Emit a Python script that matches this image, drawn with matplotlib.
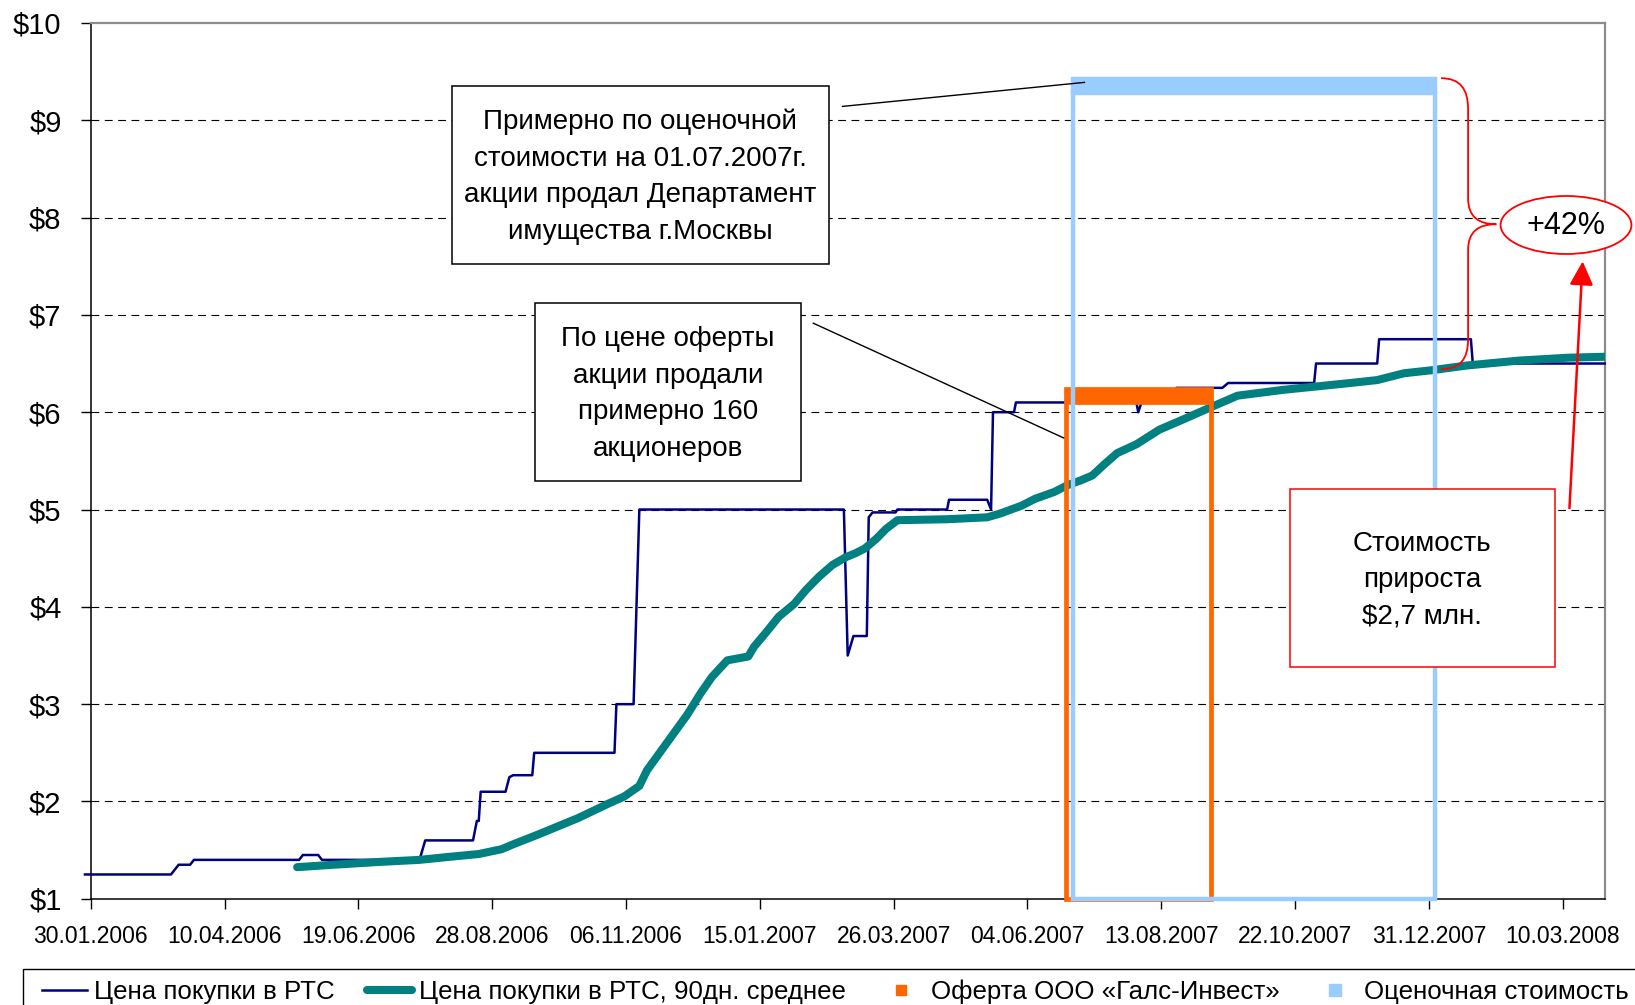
import matplotlib
matplotlib.use("Agg")
import matplotlib.pyplot as plt
import matplotlib.dates as mdates
import matplotlib.transforms as mtransforms
from matplotlib.patches import Rectangle, Ellipse, PathPatch, FancyArrowPatch
from matplotlib.path import Path
from matplotlib.lines import Line2D
from datetime import datetime

plt.rcParams['font.family'] = ['Liberation Sans', 'DejaVu Sans']

W, H = 1635, 1005

NAVY = '#000080'
TEAL = '#008080'
ORANGE = '#FF6600'
LIGHT_BLUE = '#99CCFF'
RED = '#FF0000'

# purchase price on RTS (step line)
rts_dates = ["2006-01-27", "2006-03-13", "2006-03-15", "2006-03-17", "2006-03-23", "2006-03-25",
             "2006-05-19", "2006-05-21", "2006-05-29", "2006-05-31", "2006-07-21", "2006-07-24",
             "2006-08-18", "2006-08-20", "2006-08-21", "2006-08-22", "2006-09-04", "2006-09-06",
             "2006-09-08", "2006-09-18", "2006-09-19", "2006-10-31", "2006-11-01", "2006-11-10",
             "2006-11-13", "2007-02-28", "2007-03-02", "2007-03-05", "2007-03-12", "2007-03-13",
             "2007-03-15", "2007-03-27", "2007-03-28", "2007-04-23", "2007-04-24", "2007-05-14",
             "2007-05-16", "2007-05-17", "2007-05-28", "2007-05-29", "2007-07-31", "2007-08-01",
             "2007-08-03", "2007-08-20", "2007-08-21", "2007-09-14", "2007-09-17", "2007-11-01",
             "2007-11-02", "2007-12-04", "2007-12-05", "2008-01-22", "2008-01-23", "2008-04-01"]
rts_prices = [1.25, 1.25, 1.30, 1.35, 1.35, 1.40,
              1.40, 1.45, 1.45, 1.40, 1.40, 1.60,
              1.60, 1.80, 1.80, 2.10, 2.10, 2.25,
              2.27, 2.27, 2.50, 2.50, 3.00, 3.00,
              5.00, 5.00, 3.50, 3.70, 3.70, 4.92,
              4.97, 4.97, 5.00, 5.00, 5.10, 5.10,
              5.00, 6.00, 6.00, 6.10, 6.10, 6.00,
              6.12, 6.12, 6.25, 6.25, 6.30, 6.30,
              6.50, 6.50, 6.75, 6.75, 6.50, 6.50]

# 90-day moving average
avg_dates = ["2006-05-18", "2006-06-06", "2006-07-01", "2006-07-21", "2006-08-05", "2006-08-21",
             "2006-09-02", "2006-09-08", "2006-09-21", "2006-10-12", "2006-10-28", "2006-11-05",
             "2006-11-13", "2006-11-17", "2006-11-24", "2006-12-01", "2006-12-08", "2006-12-15",
             "2006-12-21", "2006-12-29", "2007-01-09", "2007-01-12", "2007-01-18", "2007-01-25",
             "2007-02-02", "2007-02-08", "2007-02-15", "2007-02-22", "2007-03-01", "2007-03-06",
             "2007-03-11", "2007-03-17", "2007-03-22", "2007-03-28", "2007-04-23", "2007-05-14",
             "2007-05-21", "2007-06-01", "2007-06-08", "2007-06-18", "2007-06-25", "2007-07-02",
             "2007-07-08", "2007-07-14", "2007-07-21", "2007-07-31", "2007-08-12", "2007-08-25",
             "2007-09-09", "2007-09-22", "2007-10-16", "2007-11-20", "2007-12-04", "2007-12-18",
             "2008-01-01", "2008-01-20", "2008-02-16", "2008-03-13", "2008-04-02"]
avg_prices = [1.325, 1.35, 1.38, 1.40, 1.43, 1.46,
              1.51, 1.56, 1.66, 1.83, 1.98, 2.05,
              2.16, 2.32, 2.51, 2.70, 2.89, 3.11,
              3.28, 3.45, 3.49, 3.59, 3.73, 3.90,
              4.03, 4.17, 4.31, 4.43, 4.51, 4.55,
              4.60, 4.70, 4.80, 4.89, 4.90, 4.92,
              4.96, 5.04, 5.11, 5.18, 5.25, 5.30,
              5.35, 5.46, 5.58, 5.67, 5.82, 5.93,
              6.06, 6.17, 6.23, 6.30, 6.33, 6.40,
              6.43, 6.48, 6.53, 6.56, 6.57]

# offer (orange) and valuation (light blue) periods
offer_period = ["2007-06-24", "2007-09-08"]
offer_band = [6.10, 6.26]
valuation_period = ["2007-06-28", "2008-01-03"]
valuation_band = [9.28, 9.45]

x_tick_labels = ["30.01.2006", "10.04.2006", "19.06.2006", "28.08.2006", "06.11.2006", "15.01.2007",
                 "26.03.2007", "04.06.2007", "13.08.2007", "22.10.2007", "31.12.2007", "10.03.2008"]
x_limits = ["2006-01-30", "2008-04-01"]
y_ticks = [1, 2, 3, 4, 5, 6, 7, 8, 9, 10]

legend_labels = ["Цена покупки в РТС", "Цена покупки в РТС, 90дн. среднее",
                 "Оферта ООО «Галс-Инвест»", "Оценочная стоимость"]

note_valuation = "Примерно по оценочной\nстоимости на 01.07.2007г.\nакции продал Департамент\nимущества г.Москвы"
note_offer = "По цене оферты\nакции продали\nпримерно 160\nакционеров"
note_gain = "Стоимость\nприроста\n$2,7 млн."
note_percent = "+42%"


def to_num(s):
    return mdates.date2num(datetime.strptime(s, "%Y-%m-%d"))


fig = plt.figure(figsize=(W / 100, H / 100), dpi=100)
ax = fig.add_axes([90.7 / W, 1 - 898.8 / H, (1604.7 - 90.7) / W, (898.8 - 22.9) / H])

# pixel coords measured from the top-left of the image
px = mtransforms.Affine2D().scale(1, -1).translate(0, H)

rts_x = [to_num(d) for d in rts_dates]
avg_x = [to_num(d) for d in avg_dates]

ax.plot(rts_x, rts_prices, color=NAVY, lw=1.8, zorder=3, clip_on=False)
ax.plot(avg_x, avg_prices, color=TEAL, lw=5.8, zorder=4, solid_capstyle='round')

# orange offer rectangle
o0, o1 = to_num(offer_period[0]), to_num(offer_period[1])
ax.add_patch(Rectangle((o0, 1), o1 - o0, offer_band[0] - 1, fill=False, ec=ORANGE, lw=3.4,
                       zorder=5, clip_on=False, joinstyle='miter'))
ax.add_patch(Rectangle((o0, offer_band[0] + 0.025), o1 - o0, offer_band[1] - offer_band[0] - 0.05,
                       fc=ORANGE, ec=ORANGE, lw=3.4, zorder=5, clip_on=False))

# light blue valuation rectangle
v0, v1 = to_num(valuation_period[0]), to_num(valuation_period[1])
ax.add_patch(Rectangle((v0, 1), v1 - v0, valuation_band[0] - 1, fill=False, ec=LIGHT_BLUE, lw=3.2,
                       zorder=6, clip_on=False, joinstyle='miter'))
ax.add_patch(Rectangle((v0, valuation_band[0] + 0.025), v1 - v0, valuation_band[1] - valuation_band[0] - 0.05,
                       fc=LIGHT_BLUE, ec=LIGHT_BLUE, lw=3.2, zorder=6, clip_on=False))

# axes styling
ax.set_xlim(to_num(x_limits[0]), to_num(x_limits[1]))
ax.set_ylim(1, 10)
tick_pos = [mdates.date2num(datetime.strptime(t, "%d.%m.%Y")) for t in x_tick_labels]
ax.set_xticks(tick_pos)
ax.set_xticklabels(x_tick_labels)
ax.set_yticks(y_ticks)
ax.set_yticklabels(["$%d" % v for v in y_ticks])
ax.tick_params(axis='x', direction='out', length=7, width=1, labelsize=16.5, pad=12)
ax.tick_params(axis='y', direction='out', length=7, width=1, labelsize=21, pad=14)

for v in y_ticks[1:-1]:
    ax.axhline(v, color='black', lw=0.8, ls=(0, (7, 5)), zorder=1)

for side in ['left', 'bottom']:
    ax.spines[side].set_color('black')
    ax.spines[side].set_linewidth(1.1)
for side in ['top', 'right']:
    ax.spines[side].set_color('#8c8c8c')
    ax.spines[side].set_linewidth(1.6)


# annotation boxes
def note_box(x0, y0, x1, y1, text, edge, fs=20, ls=1.53):
    fig.patches.append(Rectangle((x0, y0), x1 - x0, y1 - y0, transform=px, fc='white', ec=edge,
                                 lw=1.1, zorder=10, figure=fig))
    fig.text((x0 + x1) / 2, (y0 + y1) / 2 + 2, text, transform=px, ha='center', va='center',
             fontsize=fs, linespacing=ls, zorder=11)


fig.lines.append(Line2D([842.5, 1084.4], [106.4, 82.4], transform=px, color='black', lw=1.0, zorder=9))
fig.lines.append(Line2D([813.3, 1063.6], [323.2, 437.9], transform=px, color='black', lw=1.0, zorder=9))
note_box(451.5, 85.5, 829, 263.8, note_valuation, 'black')
note_box(534.9, 303.4, 800.8, 480.7, note_offer, 'black')
note_box(1289.8, 489, 1554.7, 667.3, note_gain, RED)

# brace, ellipse and arrow
brace = [(1441, 78.2), (1459.8, 78.2), (1468.1, 88.6), (1468.1, 109.5),
         (1468.1, 198.1),
         (1468.1, 216.9), (1478.5, 224.2), (1496.3, 224.2),
         (1478.5, 224.2), (1468.1, 231.5), (1468.1, 250.2),
         (1468.1, 338.9),
         (1468.1, 359.7), (1459.8, 369.1), (1441, 369.1)]
codes = [Path.MOVETO, Path.CURVE4, Path.CURVE4, Path.CURVE4,
         Path.LINETO,
         Path.CURVE4, Path.CURVE4, Path.CURVE4,
         Path.CURVE4, Path.CURVE4, Path.CURVE4,
         Path.LINETO,
         Path.CURVE4, Path.CURVE4, Path.CURVE4]
fig.patches.append(PathPatch(Path(brace, codes), transform=px, fill=False, ec=RED, lw=1.3,
                             zorder=9, figure=fig))
fig.patches.append(Ellipse((1566, 225), 130.9, 58, transform=px, fc='white', ec=RED, lw=1.3,
                           zorder=9, figure=fig))
fig.text(1566, 226, note_percent, transform=px, ha='center', va='center', fontsize=22, zorder=10)
fig.patches.append(FancyArrowPatch((1569.3, 510.9), (1582.8, 258.6), transform=px, color=RED, lw=1.8,
                                   arrowstyle='-|>,head_length=9,head_width=4.5', mutation_scale=1.6,
                                   zorder=9, figure=fig))

# legend
handles = [Line2D([], [], color=NAVY, lw=1.8),
           Line2D([], [], color=TEAL, lw=5.8, solid_capstyle='round'),
           Line2D([], [], color=ORANGE, marker='s', ms=7, ls='none'),
           Line2D([], [], color=LIGHT_BLUE, marker='s', ms=8, ls='none')]
fig.legend(handles, legend_labels, loc='center left', bbox_to_anchor=(41.7 / W, 1 - 991.5 / H),
           ncol=4, frameon=False, fontsize=18.6, borderpad=0, borderaxespad=0,
           handlelength=1.75, handletextpad=0.27, columnspacing=1.26)
fig.patches.append(Rectangle((23, 969), 1700, 200, transform=px, fill=False, ec='black',
                             lw=1.0, figure=fig))

fig.savefig("out.png", dpi=100)
